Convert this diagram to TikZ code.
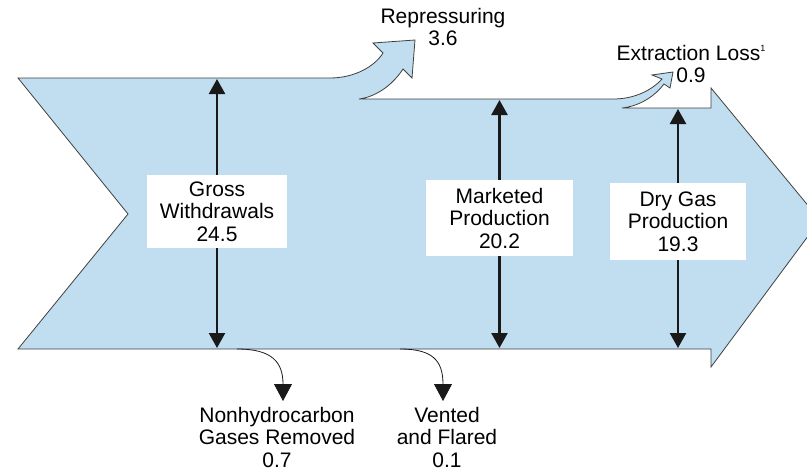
\documentclass[tikz,border=0pt]{standalone}
\usepackage{fontspec}
\setmainfont{Liberation Sans}
\usetikzlibrary{arrows.meta}
\definecolor{flowblue}{RGB}{192,222,240}

\begin{document}
\begin{tikzpicture}
            [x=1pt, y=-1pt, font=\fontsize{21}{22.5}\selectfont,
             box/.style={fill=white, align=center, inner sep=0pt},
             lbl/.style={align=center, inner sep=0pt},
             dbl/.style={-{Triangle[width=16pt,length=15pt]}, line width=2.4pt, black!90},
             drop/.style={-{Triangle[width=18pt,length=17pt]}, line width=0.8pt, black!90, shorten >=6pt}]
            \useasboundingbox (0,0) rectangle (807,472);
            % main flow band
            \draw[fill=flowblue, draw=black!75, line width=0.8pt]
                (18,78) -- (330,78) .. controls (355,78) and (375,66) .. (383,53)
                -- (373,43) -- (415,40) -- (412,78) -- (403,69)
                .. controls (392,86) and (375,97) .. (359,99)
                -- (613,99) .. controls (635,99) and (652,90) .. (662,79)
                -- (652,75) -- (673,72) -- (670,88) -- (664,84)
                .. controls (655,96) and (640,106) .. (622,108)
                -- (711,108) -- (711,88) -- (820,220) -- (711,367) -- (711,349)
                -- (18,349) -- (128,214) -- cycle;
            \coordinate (gtop) at (217,79);
            \coordinate (gbot) at (217,348);
            \coordinate (mtop) at (499.5,100);
            \coordinate (mbot) at (499.5,348);
            \coordinate (dtop) at (678,109);
            \coordinate (dbot) at (678,348);
            \coordinate (nout) at (237,349);
            \coordinate (vout) at (400,349);
            % boxes
            \node[box, minimum width=140pt, minimum height=73pt] (gross) at (217,211.5) {Gross\\Withdrawals\\24.5};
            \node[box, minimum width=147pt, minimum height=76pt] (market) at (499.5,218) {Marketed\\Production\\20.2};
            \node[box, minimum width=136pt, minimum height=77pt] (dry) at (678,221.5) {Dry Gas\\Production\\19.3};
            \draw[dbl] (gross.north) -- (gtop);
            \draw[dbl] (gross.south) -- (gbot);
            \draw[dbl] (market.north) -- (mtop);
            \draw[dbl] (market.south) -- (mbot);
            \draw[dbl] (dry.north) -- (dtop);
            \draw[dbl] (dry.south) -- (dbot);
            % labels
            \node[lbl, anchor=north] (repr) at (443,8) {Repressuring\\3.6};
            \node[lbl, anchor=north] (extr) at (691,45) {Extraction Loss\raisebox{9pt}{\fontsize{9}{9}\selectfont 1}\\0.9};
            \node[lbl, anchor=north] (nonhc) at (277,407) {Nonhydrocarbon\\Gases Removed\\0.7};
            \node[lbl, anchor=north] (vent) at (447,407) {Vented\\and Flared\\0.1};
            \draw[drop] (nout) .. controls (272,349) and (283,362) .. ([xshift=6pt]nonhc.north);
            \draw[drop] (vout) .. controls (432,349) and (443,360) .. ([xshift=-4pt]vent.north);
\end{tikzpicture}
\end{document}
